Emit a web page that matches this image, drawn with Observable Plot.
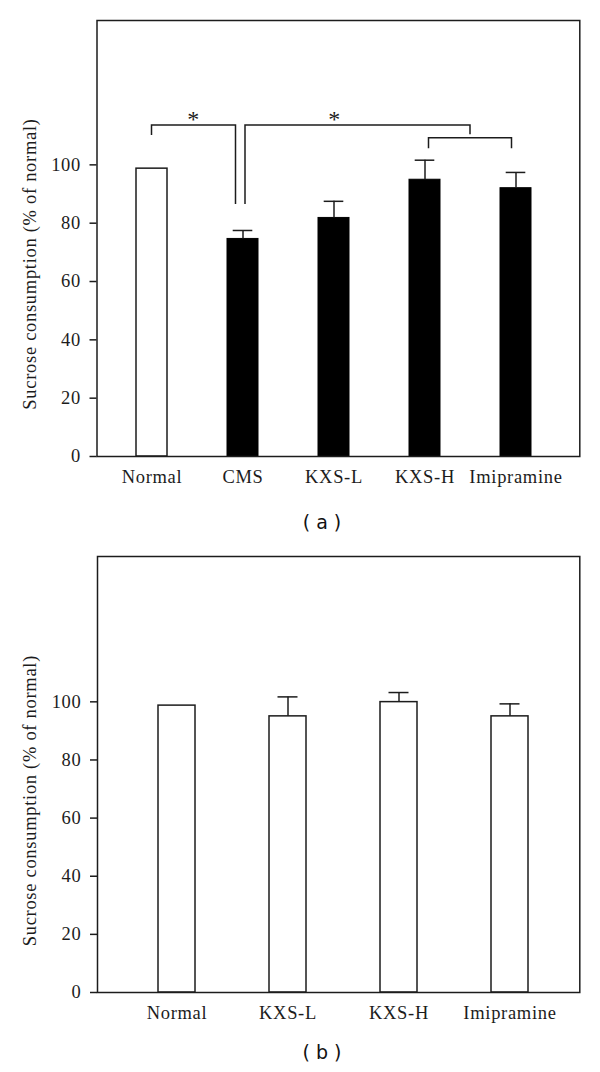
<!DOCTYPE html>
<html><head><meta charset="utf-8">
<script src="https://cdn.jsdelivr.net/npm/d3@7"></script>
<script src="https://cdn.jsdelivr.net/npm/@observablehq/plot@0.6"></script>
<style>
html,body{margin:0;padding:0;background:#fff;}
#root{position:relative;width:600px;height:1072px;overflow:hidden;background:#fff;}
.panel{position:absolute;left:0;}
.cap{position:absolute;width:80px;text-align:center;font-family:"DejaVu Sans",sans-serif;font-size:19px;color:#111;line-height:20px;white-space:pre;}
</style></head><body><div id="root"></div>
<script>
// ---- Data ----
const yLabel = "Sucrose consumption (% of normal)";
const yTicks = [0, 20, 40, 60, 80, 100];

// Panel (a)
const categoriesA = ["Normal", "CMS", "KXS-L", "KXS-H", "Imipramine"];
const meansA = [98.7, 74.6, 81.8, 94.9, 92.0];
const semA = [0, 2.9, 5.7, 6.7, 5.4];
const groupsA = ["control", "model", "model", "model", "model"];

// Panel (b)
const categoriesB = ["Normal", "KXS-L", "KXS-H", "Imipramine"];
const meansB = [98.7, 95.0, 99.9, 95.0];
const semB = [0, 6.7, 3.3, 4.3];
const groupsB = ["control", "control", "control", "control"];

// Significance brackets in panel (a): value levels of the bracket lines
const bracketTop = [113.5, 113.5, 109.1];
const bracketLegEnd = [[110.1, 86.4], [86.4, 110.3], [105.5, 105.5]];
const sigLabels = ["*", "*"];

const INK = "#1c1c1c";
const SERIF = "'Liberation Serif', 'Times New Roman', serif";

function rows(cats, means, sems, groups) {
  return cats.map((c, i) => ({cat: c, mean: means[i], sem: sems[i], group: groups[i]}));
}

function bracketRender(index, scales) {
  const sx = scales.x;
  const sy = scales.y;
  const bw = typeof sx.bandwidth === "function" ? sx.bandwidth() : (scales.scales && scales.scales.x ? scales.scales.x.bandwidth : 0);
  const cx = (cat, off) => sx(cat) + bw / 2 + off;
  const g = d3.create("svg:g");
  const paths = g.append("g").attr("fill", "none").attr("stroke", INK).attr("stroke-width", 1.5);
  const line = d3.line();
  // bracket 1: Normal -> CMS
  const b1L = cx("Normal", 0), b1R = cx("CMS", -7);
  paths.append("path").attr("d", line([[b1L, sy(bracketLegEnd[0][0])], [b1L, sy(bracketTop[0])], [b1R, sy(bracketTop[0])], [b1R, sy(bracketLegEnd[0][1])]]));
  // bracket 3: KXS-H & Imipramine group
  const b3L = cx("KXS-H", 4), b3R = cx("Imipramine", -4);
  const mid = (b3L + b3R) / 2;
  paths.append("path").attr("d", line([[b3L, sy(bracketLegEnd[2][0])], [b3L, sy(bracketTop[2])], [b3R, sy(bracketTop[2])], [b3R, sy(bracketLegEnd[2][1])]]));
  // bracket 2: CMS -> treated group
  const b2L = cx("CMS", 2.5);
  paths.append("path").attr("d", line([[b2L, sy(bracketLegEnd[1][0])], [b2L, sy(bracketTop[1])], [mid, sy(bracketTop[1])], [mid, sy(bracketLegEnd[1][1])]]));
  // stars
  const stars = g.append("g").attr("fill", INK).attr("text-anchor", "middle")
    .attr("font-family", SERIF).attr("font-size", 24);
  stars.append("text").attr("x", (b1L + b1R) / 2).attr("y", sy(bracketTop[0]) + 2.5).text(sigLabels[0]);
  stars.append("text").attr("x", cx("KXS-L", 1)).attr("y", sy(bracketTop[1]) + 2.5).text(sigLabels[1]);
  return g.node();
}

function makePanel(data, opts) {
  const {yMax, paddingOuter, align, barInset, capInset, labelDx, brackets} = opts;
  const open = data.filter(d => d.group === "control");
  const solid = data.filter(d => d.group !== "control");
  const withErr = data.filter(d => d.sem > 0);
  const marks = [
    Plot.barY(solid, {x: "cat", y: "mean", fill: "black", stroke: "black", strokeWidth: 1, insetLeft: barInset, insetRight: barInset}),
    Plot.barY(open, {x: "cat", y: "mean", fill: "white", stroke: INK, strokeWidth: 1.5, insetLeft: barInset, insetRight: barInset}),
    Plot.ruleX(withErr, {x: "cat", y1: "mean", y2: d => d.mean + d.sem, stroke: INK, strokeWidth: 1.5}),
    Plot.tickY(withErr, {x: "cat", y: d => d.mean + d.sem, stroke: INK, strokeWidth: 1.5, insetLeft: capInset, insetRight: capInset}),
    Plot.frame({stroke: INK, strokeWidth: 1.5}),
    Plot.axisY(yTicks, {tickSize: 7, tickPadding: 9, label: null, stroke: INK, strokeWidth: 1.5, fill: INK, fontSize: 18.5}),
    Plot.axisX({tickSize: 0, tickPadding: 13, label: null, fill: INK, fontSize: 18.5}),
    Plot.text([yLabel], {frameAnchor: "left", textAnchor: "middle", y: () => 66, text: d => d, rotate: -90, dx: labelDx, fill: INK, fontSize: 18.5})
  ];
  if (brackets) marks.push(bracketRender);
  return Plot.plot({
    width: 600,
    height: 490,
    marginLeft: opts.marginLeft,
    marginRight: opts.marginRight,
    marginTop: 20,
    marginBottom: 34,
    style: {fontFamily: SERIF, fontSize: "18.5px", color: INK, letterSpacing: "0.7px", background: "transparent"},
    x: {type: "band", domain: data.map(d => d.cat), paddingInner: 0, paddingOuter, align, axis: null},
    y: {domain: [0, yMax], axis: null},
    marks
  });
}

const root = document.getElementById("root");

const chartA = makePanel(rows(categoriesA, meansA, semA, groupsA), {
  yMax: 149.5, paddingOuter: 0.141, align: 0.33, barInset: 30, capInset: 35.7,
  labelDx: -66.5, marginLeft: 96.5, marginRight: 20.7, brackets: true
});
chartA.classList.add("panel");
chartA.style.top = "0px";
root.appendChild(chartA);

const capA = document.createElement("div");
capA.className = "cap";
capA.textContent = "( a )";
capA.style.left = "282px";
capA.style.top = "512px";
root.appendChild(capA);

const chartB = makePanel(rows(categoriesB, meansB, semB, groupsB), {
  yMax: 150, paddingOuter: 0.1725, align: 0.63, barInset: 37, capInset: 45.5,
  labelDx: -67, marginLeft: 97, marginRight: 20.7, brackets: false
});
chartB.classList.add("panel");
chartB.style.top = "536px";
root.appendChild(chartB);

const capB = document.createElement("div");
capB.className = "cap";
capB.textContent = "( b )";
capB.style.left = "282px";
capB.style.top = "1042px";
root.appendChild(capB);
</script>
</body></html>
